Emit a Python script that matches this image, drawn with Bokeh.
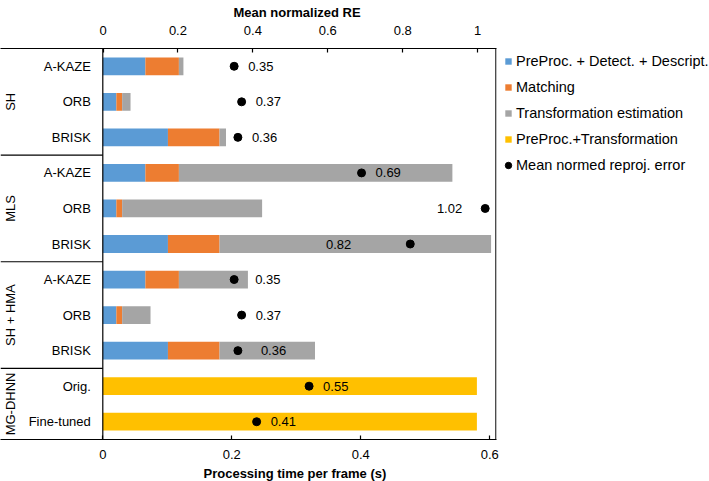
import math
from bokeh.plotting import figure
from bokeh.models import (ColumnDataSource, FactorRange, Range1d, LinearAxis, FixedTicker,
                          CustomJSTickFormatter, Legend, LegendItem, Span, Title)
from bokeh.core.properties import value
from bokeh.embed import file_html
from bokeh.resources import INLINE

# ---------------- data ----------------
groups = ["SH", "SH", "SH", "MLS", "MLS", "MLS", "SH + HMA", "SH + HMA", "SH + HMA",
          "MG-DHNN", "MG-DHNN"]
methods = ["A-KAZE", "ORB", "BRISK", "A-KAZE", "ORB", "BRISK", "A-KAZE", "ORB", "BRISK",
           "Orig.", "Fine-tuned"]
preproc = [0.066, 0.021, 0.101, 0.066, 0.021, 0.101, 0.066, 0.021, 0.101, 0.0, 0.0]
matching = [0.052, 0.009, 0.080, 0.052, 0.009, 0.080, 0.052, 0.009, 0.080, 0.0, 0.0]
transform = [0.007, 0.013, 0.010, 0.424, 0.217, 0.421, 0.107, 0.044, 0.148, 0.0, 0.0]
dhnn = [0.0, 0.0, 0.0, 0.0, 0.0, 0.0, 0.0, 0.0, 0.0, 0.580, 0.580]
mean_re = [0.35, 0.37, 0.36, 0.69, 1.02, 0.82, 0.35, 0.37, 0.36, 0.55, 0.41]
time_ticks = [0, 0.2, 0.4, 0.6]
re_ticks = [0, 0.2, 0.4, 0.6, 0.8, 1.0]
series_labels = ["PreProc. + Detect. + Descript.", "Matching", "Transformation estimation",
                 "PreProc.+Transformation"]
dot_label = "Mean normed reproj. error"
x_title = "Processing time per frame (s)"
top_title = "Mean normalized RE"

# ---------------- style ----------------
colors = ["#5B9BD5", "#ED7D31", "#A5A5A5", "#FFC000"]
label_side = ["left"] * 4 + ["right", "right"] + ["left"] * 5
label_offset = [14, 14, 14, 14, -23, -59, 21, 14, 23, 14, 14]
FONT = "Liberation Sans"
FRAME_W, FRAME_H = 496, 391   # frame spans the label area on the left, too
ZERO_PX = 102.3        # pixel position of value 0 inside the frame
T_PX = 645.0           # px per second
R_PX = 374.7           # px per RE unit
ZERO_PX_RE = 102.5

t_start = -ZERO_PX / T_PX
t_end = (FRAME_W - ZERO_PX) / T_PX
r_start = -ZERO_PX_RE / R_PX
r_end = (FRAME_W - ZERO_PX_RE) / R_PX

rows = list(zip(groups, methods))
factors = rows[::-1]

src = ColumnDataSource(dict(
    y=rows, pre=preproc, match=matching, trans=transform, dhnn=dhnn,
    re=mean_re, method=methods,
))

p = figure(frame_width=FRAME_W, frame_height=FRAME_H,
           output_backend="svg", toolbar_location=None,
           x_range=Range1d(t_start, t_end),
           y_range=FactorRange(*factors, factor_padding=0, group_padding=0,
                               subgroup_padding=0, range_padding=0),
           y_axis_location=None,
           min_border_left=0, min_border_right=213,
           min_border_top=48, min_border_bottom=42)
p.extra_x_ranges = {"re": Range1d(r_start, r_end)}
p.grid.visible = False
p.outline_line_color = None
p.background_fill_color = "white"
p.border_fill_color = "white"

fmt = CustomJSTickFormatter(code="return (Math.round(tick*10)/10).toString();")

def style_axis(ax):
    ax.axis_line_color = "black"
    ax.axis_line_width = 1.2
    ax.major_tick_line_color = "black"
    ax.major_tick_line_width = 1.2
    ax.major_tick_in = 4
    ax.major_tick_out = 0
    ax.minor_tick_line_color = None
    ax.major_label_text_font = FONT
    ax.major_label_text_font_size = "13px"
    ax.major_label_text_color = "black"
    ax.formatter = fmt

bx = p.xaxis[0]
style_axis(bx)
bx.ticker = FixedTicker(ticks=time_ticks)
bx.major_label_standoff = 10

tx = LinearAxis(x_range_name="re", ticker=FixedTicker(ticks=re_ticks))
style_axis(tx)
tx.major_label_standoff = 14
p.add_layout(tx, "above")

p.add_layout(Title(text=top_title, align="left", offset=233, standoff=2,
                   vertical_align="top",
                   text_font=FONT, text_font_size="13px", text_font_style="bold",
                   text_color="black"), "above")
p.add_layout(Title(text=x_title, align="left", offset=203, standoff=4,
                   text_font=FONT, text_font_size="13px", text_font_style="bold",
                   text_color="black"), "below")

# bars
bars = p.hbar_stack(["pre", "match", "trans", "dhnn"], y="y", height=0.5,
                    color=colors, line_color=None, source=src)

# left axis line, right border and group separators
p.add_layout(Span(location=0, dimension="height", line_color="black", line_width=1.2))
p.add_layout(Span(location=t_end - 0.6 / T_PX, dimension="height", line_color="black",
                  line_width=1.2))
bounds = [i for i in range(1, len(factors)) if factors[i][0] != factors[i - 1][0]]
p.segment(x0=t_start, x1=0, y0=bounds, y1=bounds, line_color="black", line_width=1.2)

# category labels
p.text(x=0, y="y", text="method", source=src, x_offset=-12, text_align="right",
       text_baseline="middle", text_font=value(FONT), text_font_size="13px",
       text_color="black")
grp_names = list(dict.fromkeys(groups))
p.text(x=t_start, y=grp_names, text=grp_names, x_offset=10, angle=math.pi / 2,
       text_align="center", text_baseline="middle", text_font=value(FONT),
       text_font_size="13px", text_color="black")

# dots + value labels
dots = p.scatter(x="re", y="y", size=8, color="black", x_range_name="re", source=src)
for side, align in (("left", "left"), ("right", "right")):
    idx = [i for i, s in enumerate(label_side) if s == side]
    s2 = ColumnDataSource(dict(
        re=[mean_re[i] for i in idx], y=[rows[i] for i in idx],
        t=[f"{mean_re[i]:.2f}" for i in idx], xoff=[label_offset[i] for i in idx]))
    p.text(x="re", y="y", text="t", x_offset="xoff", source=s2, x_range_name="re",
           text_align=align, text_baseline="middle", text_font=value(FONT),
           text_font_size="13px", text_color="black")

# legend: small square swatches (zero-size marker renderers on the bar data)
swatches = [p.scatter(x=col, y="y", source=src, marker="square", fill_color=c,
                      line_color=None, size=0)
            for col, c in zip(["pre", "match", "trans", "dhnn"], colors)]
items = [LegendItem(label=l, renderers=[r]) for l, r in zip(series_labels, swatches)]
items.append(LegendItem(label=dot_label, renderers=[dots]))
leg = Legend(items=items, location="top_left", orientation="vertical",
             border_line_color=None, background_fill_alpha=0,
             margin=4, padding=0, spacing=9, label_height=17,
             glyph_height=16, glyph_width=16, label_standoff=0,
             label_text_font=FONT, label_text_font_size="14.5px",
             label_text_color="black")
p.add_layout(leg, "right")

open("out.html", "w").write(file_html(p, INLINE))
